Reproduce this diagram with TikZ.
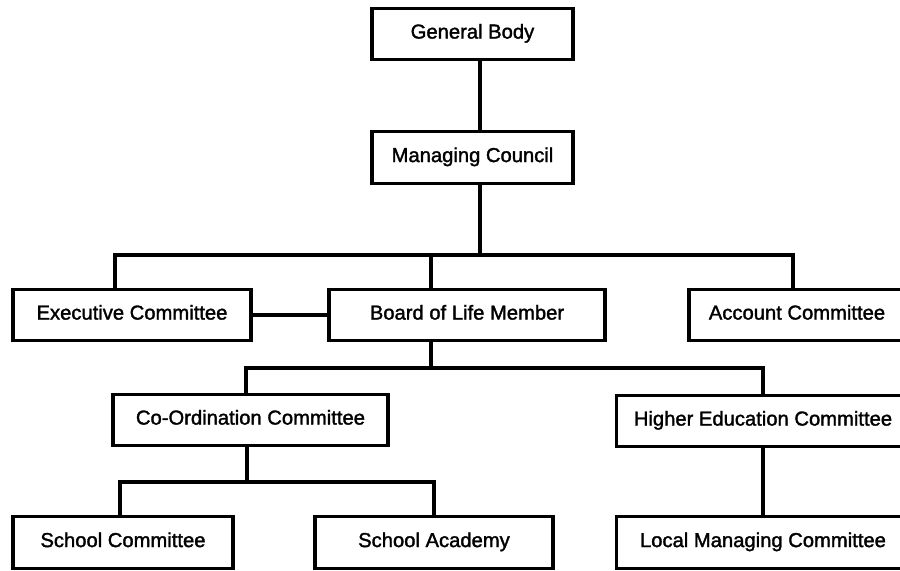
\documentclass[tikz,border=0pt]{standalone}
\usepackage{fontspec}
\setmainfont{Liberation Sans}[UprightFeatures={FakeBold=1.6}]
\usetikzlibrary{calc}

\begin{document}
\begin{tikzpicture}[x=0.02cm,y=-0.02cm,line cap=rect,line join=miter,
    unit/.style={draw,line width=1.9pt,fill=white,inner sep=0pt,
      minimum height=1.03cm,text height=0.72em,text depth=0.2em,
      font=\fontsize{11.5}{14}\selectfont},
    wire/.style={line width=2pt}]
  \useasboundingbox (0,0) rectangle (900,571);
  \node[unit,minimum width=4.02cm] (gb) at (472.5,34) {General Body};
  \node[unit,minimum width=4.02cm] (mc) at (472.5,157.5) {Managing Council};
  \node[unit,minimum width=4.76cm] (ec) at (132,315) {Executive Committee};
  \node[unit,minimum width=5.52cm] (blm) at (467,315) {Board of Life Member};
  \node[unit,minimum width=4.32cm] (ac) at (797,315) {Account Committee};
  \node[unit,minimum width=5.50cm] (coc) at (250.5,420) {Co-Ordination Committee};
  \node[unit,minimum width=5.86cm] (hec) at (763,421) {Higher Education Committee};
  \node[unit,minimum width=5.86cm] (lmc) at (763,542.5) {Local Managing Committee};
  \node[unit,minimum width=4.40cm] (sc) at (123,542.5) {School Committee};
  \node[unit,minimum width=4.76cm] (sa) at (434,542.5) {School Academy};
  \coordinate (bus1) at (480,255);
  \coordinate (bus2) at (431,368);
  \coordinate (bus3) at (247,482);
  \draw[wire] ($(gb.south)+(7.5,0)$) -- ($(mc.north)+(7.5,0)$);
  \draw[wire] ($(mc.south)+(7.5,0)$) -- (bus1);
  \draw[wire] ($(ec.north)+(-17,0)$) |- (bus1) -| ($(ac.north)+(-4,0)$);
  \draw[wire] ($(blm.north)+(-36,0)$) coordinate (d1) -- (d1 |- bus1);
  \draw[wire] (ec.east) -- (blm.west);
  \draw[wire] ($(blm.south)+(-36,0)$) -- (bus2);
  \draw[wire] ($(coc.north)+(-4.5,0)$) |- (bus2) -| (hec.north);
  \draw[wire] ($(coc.south)+(-3.5,0)$) -- (bus3);
  \draw[wire] ($(sc.north)+(-3,0)$) |- (bus3) -| (sa.north);
  \draw[wire] (hec.south) -- (lmc.north);
\end{tikzpicture}
\end{document}
